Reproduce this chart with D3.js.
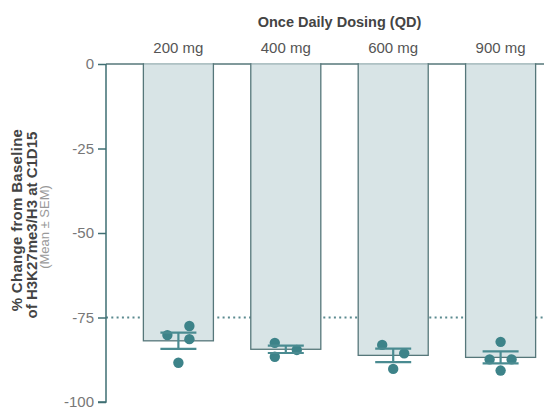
<!DOCTYPE html>
<html><head><meta charset="utf-8">
<script src="https://cdn.jsdelivr.net/npm/d3@7"></script>
<style>body{margin:0;background:#fff}svg{display:block;font-family:"Liberation Sans",Arial,sans-serif}</style>
</head><body><svg id="c" width="544" height="407"></svg>
<script>
const categories = ["200 mg","400 mg","600 mg","900 mg"];
const means = [-81.9,-84.4,-86.2,-86.8];
const sems = [2.4,1.1,2.0,1.8];
const points = [
  [-80.2,-77.5,-81.4,-88.4],
  [-82.5,-86.6,-84.6],
  [-83.1,-85.6,-90.2],
  [-82.2,-87.4,-87.4,-90.7]
];
const slots = [
  [-1,1,1,0],
  [-1,-1,1],
  [-1,1,0],
  [0,-1,1,0]
];
const yTicks = [0,-25,-50,-75,-100];
const refLine = -75;
const title = "Once Daily Dosing (QD)";

const svg = d3.select("#c");
const x = d3.scaleBand().domain(categories).range([106,573]).padding(0.348);
const y = d3.scaleLinear().domain([-100,0]).range([402,64]);
const teal = "#3d8389", dark="#56777a";

// reference dotted line
svg.append("line").attr("x1",106).attr("x2",544).attr("y1",y(refLine)).attr("y2",y(refLine))
  .attr("stroke","#5b8a8f").attr("stroke-width",2).attr("stroke-dasharray","2,3.3");
// zero line
svg.append("line").attr("x1",106).attr("x2",544).attr("y1",y(0)).attr("y2",y(0))
  .attr("stroke",dark).attr("stroke-width",1.3);

// bars
const g = svg.selectAll("g.bar").data(categories).join("g");
g.append("rect").attr("x",d=>x(d)).attr("width",x.bandwidth())
  .attr("y",y(0)).attr("height",(d,i)=>y(means[i])-y(0))
  .attr("fill","#d8e4e6").attr("stroke",dark).attr("stroke-width",1.3);
g.append("line").attr("x1",d=>x(d)+0.7).attr("x2",d=>x(d)+x.bandwidth()-0.7)
  .attr("y1",y(0)).attr("y2",y(0)).attr("stroke","#c9d7da").attr("stroke-width",1.5);

// points
categories.forEach((c,i)=>{
  const cx = x(c)+x.bandwidth()/2;
  points[i].forEach((v,j)=>{
    svg.append("circle").attr("cx",cx+slots[i][j]*11).attr("cy",y(v)).attr("r",5.2).attr("fill",teal);
  });
  // error bars
  const eg = svg.append("g").attr("stroke","#4a8b91").attr("stroke-width",2.2);
  eg.append("line").attr("x1",cx).attr("x2",cx).attr("y1",y(means[i]+sems[i])).attr("y2",y(means[i]-sems[i]));
  [1,-1].forEach(s=>eg.append("line").attr("x1",cx-18).attr("x2",cx+18)
    .attr("y1",y(means[i]+s*sems[i])).attr("y2",y(means[i]+s*sems[i])));
});

// y axis
const ax = svg.append("g").attr("transform","translate(106,0)")
  .call(d3.axisLeft(y).tickValues(yTicks).tickSize(8).tickPadding(4).tickFormat(d=>String(d)));
ax.select(".domain").attr("stroke","#3f6f73").attr("stroke-width",1.5).attr("d","M0,"+y(0)+"V"+y(-100)+"H-8");
ax.selectAll(".tick line").attr("stroke","#3f6f73").attr("stroke-width",1.5);
ax.selectAll(".tick text").attr("fill","#777").attr("font-size",15).attr("font-family","Liberation Sans, Arial");

// category labels
svg.selectAll("text.cat").data(categories).join("text").attr("class","cat")
  .attr("x",d=>x(d)+x.bandwidth()/2).attr("y",53).attr("text-anchor","middle")
  .attr("font-size",15).attr("fill","#555").text(d=>d);
// title
svg.append("text").attr("x",(x(categories[0])+x(categories[3])+x.bandwidth())/2).attr("y",27)
  .attr("text-anchor","middle").attr("font-size",14.5).attr("font-weight","bold").attr("fill","#444").text(title);

// y label
const yl = [["% Change from Baseline",22,15,"bold","#444",0.3,220],["of H3K27me3/H3 at C1D15",37,15,"bold","#444",0,225],["(Mean ± SEM)",48.5,13,"normal","#999",0,227]];
yl.forEach(([t,bx,fs,fw,col,ls,cy])=>{
  svg.append("text").attr("transform",`translate(${bx},${cy}) rotate(-90)`).attr("text-anchor","middle")
    .attr("font-size",fs).attr("font-weight",fw).attr("fill",col).attr("letter-spacing",ls).text(t);
});
</script></body></html>
